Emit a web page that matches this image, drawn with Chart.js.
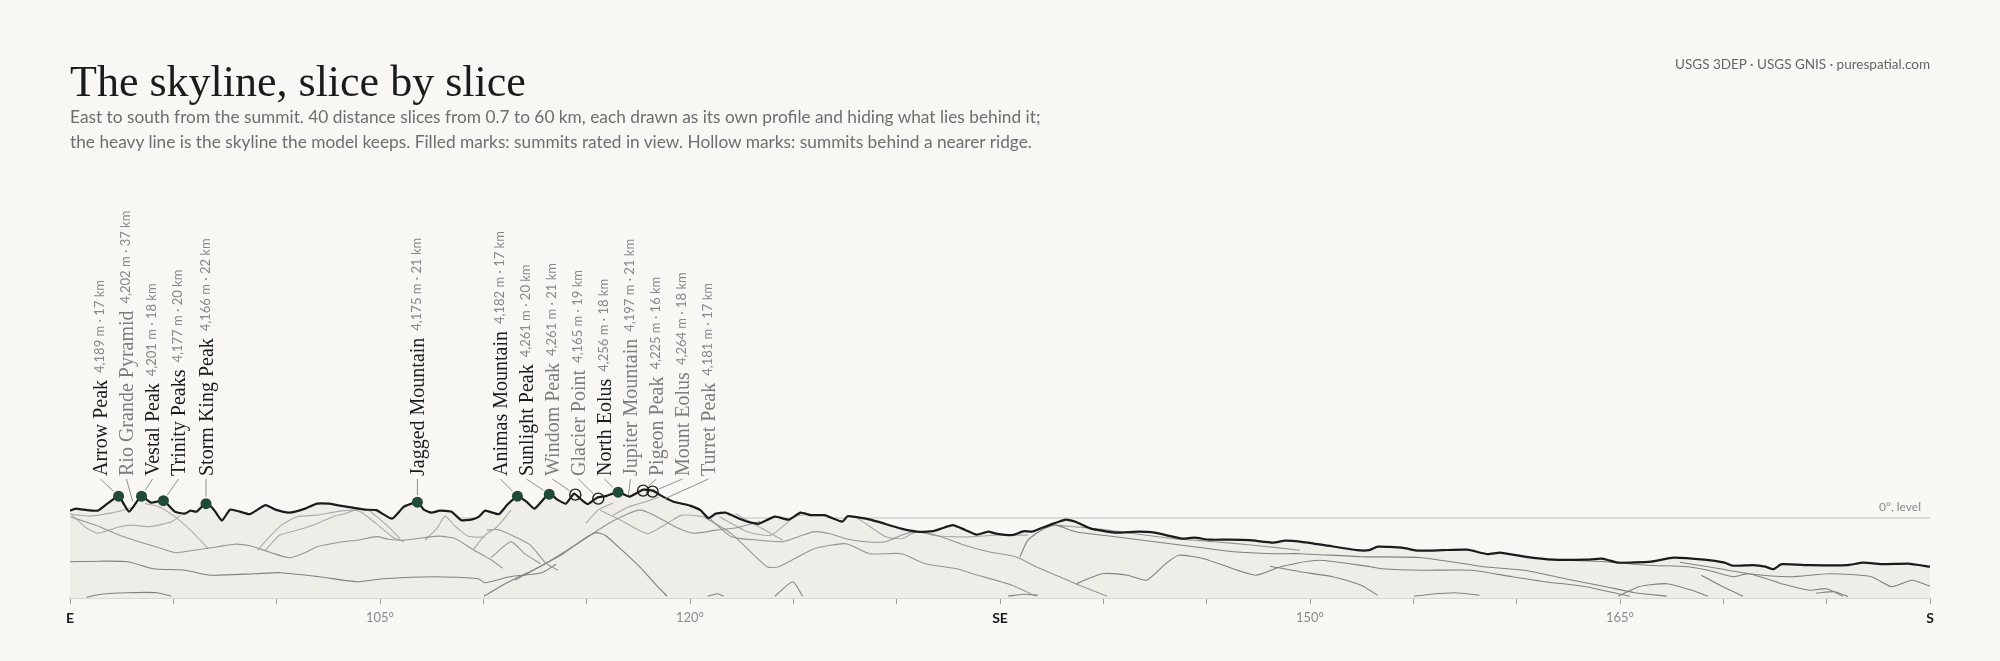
<!DOCTYPE html>
<html>
<head>
<meta charset="utf-8">
<script src="https://cdn.jsdelivr.net/npm/chart.js@4.4.1/dist/chart.umd.min.js"></script>
<style>
  html, body { margin: 0; padding: 0; background: #f8f7f3; width: 2000px; height: 661px; overflow: hidden; }
  #wrap { position: relative; width: 2000px; height: 661px; }
  #chart { position: absolute; left: 0; top: 0; }
  .title { position: absolute; left: 70px; top: 60px; font-family: "Liberation Serif", serif; font-size: 44px; line-height: 44px; color: #1b1b1b; white-space: nowrap; }
  .sub { position: absolute; left: 70px; top: 104px; font-family: Lato, sans-serif; font-size: 17.3px; line-height: 25px; color: #6e6e6e; white-space: nowrap; }
  .src { position: absolute; right: 70px; top: 56px; font-family: Lato, sans-serif; font-size: 13.5px; line-height: 16px; color: #666; white-space: nowrap; }
</style>
</head>
<body>
<div id="wrap">
  <canvas id="chart" width="2000" height="661"></canvas>
  <div class="title">The skyline, slice by slice</div>
  <div class="sub">East to south from the summit. 40 distance slices from 0.7 to 60 km, each drawn as its own profile and hiding what lies behind it;<br>the heavy line is the skyline the model keeps. Filled marks: summits rated in view. Hollow marks: summits behind a nearer ridge.</div>
  <div class="src">USGS 3DEP · USGS GNIS · purespatial.com</div>
</div>
<script>
// ---------- DATA ----------
// Skyline (heavy line): azimuth in degrees, elevation angle in degrees
const skylineAz = [90.0, 90.28, 90.66, 91.34, 91.81, 92.35, 92.86, 93.44, 93.92, 94.53,
  95.07, 95.55, 95.83, 96.12, 96.60, 96.98, 97.35, 97.74, 98.22, 98.70,
  99.46, 99.94, 100.61, 101.38, 101.95, 102.53, 102.91, 103.67, 104.25, 104.82,
  105.58, 106.16, 106.83, 107.12, 107.50, 107.88, 108.46, 108.93, 109.41, 109.79,
  110.09, 110.75, 111.14, 111.65, 112.09, 112.48, 113.18, 113.62, 114.00, 114.39,
  114.77, 115.06, 115.50, 115.92, 116.53, 117.07, 117.74, 118.21, 118.60, 119.20,
  119.60, 120.00, 120.50, 120.90, 121.24, 121.72, 122.39, 122.96, 123.34, 124.11,
  124.77, 125.35, 125.83, 126.50, 127.36, 127.64, 128.51, 129.08, 130.23, 130.99,
  131.76, 132.14, 132.72, 133.29, 133.87, 134.44, 134.82, 135.58, 136.16, 136.54,
  136.93, 138.17, 138.65, 139.41, 140.56, 141.71, 142.48, 143.82, 144.39, 145.15,
  146.11, 147.07, 148.21, 148.79, 149.52, 150.70, 152.28, 152.87, 153.27, 154.45,
  155.24, 156.43, 157.61, 158.60, 159.19, 160.38, 161.76, 163.34, 164.13, 164.92,
  166.50, 167.59, 169.07, 170.06, 170.45, 171.44, 172.03, 172.43, 172.82, 174.20,
  175.98, 176.77, 177.76, 178.94, 180.0];
const skylineAlt = [0.15, 0.19, 0.17, 0.15, 0.29, 0.44, 0.13, 0.44, 0.31, 0.35,
  0.13, 0.09, 0.15, 0.13, 0.31, 0.16, -0.05, 0.17, 0.13, 0.08,
  0.26, 0.17, 0.11, 0.19, 0.29, 0.29, 0.26, 0.21, 0.17, 0.16,
  -0.01, 0.23, 0.32, 0.17, 0.11, 0.15, 0.13, -0.04, -0.03, 0.03,
  0.15, 0.08, 0.26, 0.44, 0.33, 0.19, 0.49, 0.36, 0.29, 0.49,
  0.36, 0.28, 0.41, 0.44, 0.52, 0.43, 0.57, 0.55, 0.45, 0.33,
  0.29, 0.25, 0.16, 0.00, 0.09, 0.11, -0.01, -0.09, -0.11, 0.03,
  -0.03, 0.11, 0.06, 0.06, -0.07, 0.04, -0.01, -0.07, -0.21, -0.27,
  -0.26, -0.21, -0.14, -0.23, -0.33, -0.27, -0.31, -0.34, -0.26, -0.27,
  -0.21, -0.03, -0.07, -0.21, -0.29, -0.27, -0.29, -0.41, -0.39, -0.43,
  -0.43, -0.44, -0.49, -0.45, -0.47, -0.54, -0.64, -0.64, -0.57, -0.59,
  -0.65, -0.64, -0.63, -0.72, -0.69, -0.77, -0.83, -0.83, -0.81, -0.89,
  -0.87, -0.79, -0.83, -0.89, -0.95, -0.94, -0.97, -1.02, -0.92, -0.94,
  -0.94, -0.89, -0.92, -0.91, -0.97];

// Visible parts of the distance-slice profiles (azimuth, elevation angle)
const ridge01Az = [90.8, 91.5, 92.8, 94.2, 94.9];
const ridge01Alt = [-1.58, -1.52, -1.49, -1.49, -1.56];
const ridge02Az = [90.0, 91.45, 92.79, 94.02, 95.56, 96.80, 98.95, 100.19, 102.05, 103.89, 105.13, 107.60, 109.76, 110.07, 111.29, 112.84, 113.52];
const ridge02Alt = [-0.87, -0.86, -0.87, -1.01, -1.04, -1.14, -1.11, -1.09, -1.17, -1.27, -1.21, -1.17, -1.21, -1.29, -1.17, -1.09, -0.92];
const ridge03Az = [90.0, 91.43, 92.39, 93.34, 94.30, 95.07, 95.83, 97.17, 97.94, 98.70, 99.66, 100.61, 101.38, 101.95, 102.91, 104.06, 104.82, 105.40, 106.16, 107.12, 107.88, 108.65, 109.51, 110.37, 110.93];
const ridge03Alt = [0.03, -0.17, -0.34, -0.47, -0.59, -0.69, -0.65, -0.57, -0.52, -0.55, -0.68, -0.79, -0.69, -0.57, -0.49, -0.43, -0.37, -0.42, -0.44, -0.39, -0.36, -0.41, -0.63, -0.83, -1.0];
const ridge04Az = [90.10, 90.81, 91.31, 91.74, 92.32, 92.97, 93.84, 94.92, 95.35];
const ridge04Alt = [0.06, -0.20, -0.30, -0.26, -0.18, -0.14, -0.17, -0.07, 0.06];
const ridge05Az = [90.0, 90.97, 91.94, 92.76, 93.15];
const ridge05Alt = [0.08, 0.04, 0.10, 0.18, 0.24];
const ridge06Az = [93.63, 94.30, 95.07, 95.83, 96.69];
const ridge06Alt = [0.29, 0.23, 0.03, -0.24, -0.61];
const ridge07Az = [99.08, 99.66, 100.23, 100.99, 101.95, 102.91, 103.67, 104.06, 104.82, 105.58, 106.16];
const ridge07Alt = [-0.64, -0.37, -0.14, 0.03, 0.06, 0.13, 0.16, 0.13, -0.11, -0.37, -0.47];
const ridge08Az = [99.46, 100.14, 100.99, 101.95, 102.72, 103.29, 103.87, 104.44, 105.40, 105.97];
const ridge08Alt = [-0.64, -0.34, -0.24, -0.11, 0.03, 0.09, 0.17, 0.16, -0.17, -0.41];
const ridge09Az = [107.18, 107.76, 108.15, 108.63, 109.26, 110.08];
const ridge09Alt = [-0.44, -0.20, 0.04, -0.16, -0.36, -0.38];
const ridge10Az = [109.51, 110.08, 110.56, 110.95, 111.33];
const ridge10Alt = [-0.63, -0.34, -0.21, -0.04, 0.16];
const ridge11Az = [110.18, 110.75, 111.52, 112.28, 113.05, 113.62];
const ridge11Alt = [-0.24, -0.23, -0.37, -0.54, -0.91, -1.04];
const ridge12Az = [110.37, 111.33, 112.00, 112.76];
const ridge12Alt = [-0.79, -0.47, -0.71, -0.91];
const ridge13Az = [110.03, 111.10, 112.40, 113.90, 114.92, 115.45, 115.89, 116.71, 117.58, 118.46, 118.89];
const ridge13Alt = [-1.56, -1.30, -1.04, -0.70, -0.40, -0.29, -0.34, -0.64, -0.98, -1.38, -1.56];
const ridge14Az = [111.53, 113.03, 114.58, 116.08, 116.95, 117.58, 118.26, 119.32, 120.19, 121.26, 122.37, 123.39];
const ridge14Alt = [-1.24, -0.90, -0.50, -0.10, 0.08, 0.16, 0.06, -0.18, -0.30, -0.24, -0.18, -0.06];
const ridge15Az = [115.65, 116.65, 117.94, 118.87, 119.61, 120.72];
const ridge15Alt = [0.16, -0.04, -0.31, -0.11, 0.06, 0.03];
const ridge16Az = [114.97, 115.55, 116.27];
const ridge16Alt = [-0.10, 0.16, 0.30];
const ridge17Az = [116.27, 116.99, 117.77, 118.49];
const ridge17Alt = [0.06, 0.22, 0.32, 0.42];
const ridge18Az = [120.66, 122.00, 123.73, 124.30, 126.02, 127.55, 128.70, 130.23, 131.38, 132.91, 133.67, 135.58, 136.74];
const ridge18Alt = [0.03, -0.31, -0.97, -0.97, -0.61, -0.51, -0.71, -0.71, -0.91, -1.01, -1.11, -1.34, -1.56];
const ridge19Az = [120.86, 122.00, 123.34, 124.49, 125.25, 126.02, 126.77, 127.55, 128.51, 129.46, 130.42, 130.99, 132.14, 133.29, 134.44, 135.77, 136.74, 137.88, 138.65, 140.18];
const ridge19Alt = [0.03, -0.37, -0.44, -0.47, -0.37, -0.27, -0.31, -0.41, -0.47, -0.47, -0.31, -0.27, -0.37, -0.54, -0.67, -0.77, -0.97, -1.17, -1.31, -1.56];
const ridge20Az = [121.43, 122.77, 123.92, 125.07, 125.83];
const ridge20Alt = [0.03, -0.27, -0.34, 0.03, 0.09];
const ridge21Az = [122.20, 123.34, 124.49];
const ridge21Alt = [0.09, -0.17, -0.44];
const ridge22Az = [128.13, 128.51, 129.46, 130.23, 130.99, 131.76, 132.71, 133.67, 134.82, 136.35];
const ridge22Alt = [-0.01, -0.11, -0.37, -0.41, -0.27, -0.34, -0.37, -0.37, -0.34, -0.34];
const ridge23Az = [135.97, 136.35, 137.12, 137.69, 138.65, 140.56, 142.47, 144.39, 146.30, 148.21, 149.51, 152.47, 155.42, 158.40, 160.38, 162.34, 164.32, 165.71, 167.27];
const ridge23Alt = [-0.77, -0.44, -0.21, -0.14, -0.27, -0.37, -0.47, -0.57, -0.67, -0.71, -0.71, -0.77, -0.79, -0.97, -1.04, -1.21, -1.37, -1.49, -1.56];
const ridge24Az = [138.70, 139.93, 141.17, 142.10, 143.02, 143.64, 144.87, 147.34, 148.58, 150.43, 152.90, 153.46, 155.44, 157.81, 159.78, 161.37, 163.34, 164.92, 165.48];
const ridge24Alt = [-1.31, -1.11, -1.14, -1.24, -0.91, -0.74, -0.81, -1.14, -0.97, -0.84, -0.97, -1.01, -1.04, -1.04, -1.17, -1.27, -1.37, -1.51, -1.56];
const ridge25Az = [148.06, 149.51, 151.10, 152.47, 153.27];
const ridge25Alt = [-0.96, -1.07, -1.17, -1.34, -1.54];
const ridge26Az = [137.69, 139.60, 141.52, 143.42, 145.35, 147.26, 149.51];
const ridge26Alt = [-0.14, -0.21, -0.31, -0.41, -0.47, -0.54, -0.64];
const ridge27Az = [155.03, 155.83, 157.01, 158.20];
const ridge27Alt = [-1.56, -1.52, -1.49, -1.54];
const ridge28Az = [164.92, 165.91, 167.27, 168.47, 169.26];
const ridge28Alt = [-1.56, -1.37, -1.31, -1.44, -1.56];
const ridge29Az = [162.1, 164.32, 166.30, 168.28, 169.26, 170.46, 171.24, 172.82, 174.19, 174.99, 175.79];
const ridge29Alt = [-0.84, -0.87, -0.94, -0.97, -1.04, -1.17, -1.11, -1.31, -1.44, -1.41, -1.56];
const ridge30Az = [167.90, 169.26, 171.24, 173.22, 175.19, 177.16, 178.15, 179.13, 180.0];
const ridge30Alt = [-0.88, -0.97, -1.11, -1.17, -1.11, -1.17, -1.37, -1.24, -1.36];
const ridge31Az = [168.94, 169.84, 170.95];
const ridge31Alt = [-1.14, -1.34, -1.56];
const ridge32Az = [120.86, 121.34, 121.62];
const ridge32Alt = [-1.56, -1.51, -1.56];
const ridge33Az = [124.11, 124.97, 125.45];
const ridge33Alt = [-1.56, -1.27, -1.56];
const ridge34Az = [135.39, 136.16, 136.84];
const ridge34Alt = [-1.56, -1.52, -1.54];
const ridge35Az = [174.48, 175.40, 176.03];
const ridge35Alt = [-1.50, -1.47, -1.57];

// Named summits
const summitNames = ["Arrow Peak", "Rio Grande Pyramid", "Vestal Peak", "Trinity Peaks", "Storm King Peak",
  "Jagged Mountain", "Animas Mountain", "Sunlight Peak", "Windom Peak", "Glacier Point",
  "North Eolus", "Jupiter Mountain", "Pigeon Peak", "Mount Eolus", "Turret Peak"];
const summitElev = [4189, 4202, 4201, 4177, 4166, 4175, 4182, 4261, 4261, 4165, 4256, 4197, 4225, 4264, 4181];
const summitDist = [17, 37, 18, 20, 22, 21, 17, 20, 21, 19, 18, 21, 16, 18, 17];
const summitAz = [92.35, 93.12, 93.46, 94.52, 96.58, 106.81, 111.65, 113.19, 114.45, 115.56, 116.52, 116.98, 117.73, 118.19, 118.47];
const summitAlt = [0.44, 0.20, 0.44, 0.35, 0.29, 0.32, 0.44, 0.48, 0.47, 0.39, 0.52, 0.33, 0.55, 0.53, 0.33];
const summitInView = [true, false, true, true, true, true, true, true, false, false, true, false, false, false, false];

// Axis tick labels
const compassAz = [90, 135, 180];
const compassLabels = ["E", "SE", "S"];

// ---------- CHART ----------
const ridges = [
  [ridge01Az, ridge01Alt], [ridge02Az, ridge02Alt], [ridge03Az, ridge03Alt], [ridge04Az, ridge04Alt],
  [ridge05Az, ridge05Alt], [ridge06Az, ridge06Alt], [ridge07Az, ridge07Alt], [ridge08Az, ridge08Alt],
  [ridge09Az, ridge09Alt], [ridge10Az, ridge10Alt], [ridge11Az, ridge11Alt], [ridge12Az, ridge12Alt],
  [ridge13Az, ridge13Alt], [ridge14Az, ridge14Alt], [ridge15Az, ridge15Alt], [ridge16Az, ridge16Alt],
  [ridge17Az, ridge17Alt], [ridge18Az, ridge18Alt], [ridge19Az, ridge19Alt], [ridge20Az, ridge20Alt],
  [ridge21Az, ridge21Alt], [ridge22Az, ridge22Alt], [ridge23Az, ridge23Alt], [ridge24Az, ridge24Alt],
  [ridge25Az, ridge25Alt], [ridge26Az, ridge26Alt], [ridge27Az, ridge27Alt], [ridge28Az, ridge28Alt],
  [ridge29Az, ridge29Alt], [ridge30Az, ridge30Alt], [ridge31Az, ridge31Alt], [ridge32Az, ridge32Alt],
  [ridge33Az, ridge33Alt], [ridge34Az, ridge34Alt], [ridge35Az, ridge35Alt]
];
const toPts = (az, alt) => az.map((a, i) => ({ x: a, y: alt[i] }));

function ridgeColor(alt) {
  const lo = Math.min(...alt);
  const hi = Math.max(...alt);
  const mid = (lo + hi) / 2;
  return mid < -0.8 ? '#808080' : (mid < -0.3 ? '#959595' : '#ababab');
}

const datasets = [{
  label: 'skyline',
  data: toPts(skylineAz, skylineAlt),
  borderColor: '#1b1b1b',
  borderWidth: 2.2,
  backgroundColor: '#efede8',
  fill: 'start',
  tension: 0.15,
  pointRadius: 0
}];
ridges.forEach(([az, alt], k) => {
  datasets.push({
    label: 'slice ' + (k + 1),
    data: toPts(az, alt),
    borderColor: ridgeColor(alt),
    borderWidth: 1.1,
    fill: false,
    tension: 0.2,
    pointRadius: 0
  });
});

function skyAt(az) {
  for (let i = 0; i < skylineAz.length - 1; i++) {
    if (az >= skylineAz[i] && az <= skylineAz[i + 1]) {
      const t = (az - skylineAz[i]) / (skylineAz[i + 1] - skylineAz[i]);
      return skylineAlt[i] + t * (skylineAlt[i + 1] - skylineAlt[i]);
    }
  }
  return skylineAlt[skylineAlt.length - 1];
}

const levelPlugin = {
  id: 'level',
  beforeDraw(chart) {
    const { ctx, chartArea, scales: { y } } = chart;
    const yy = Math.round(y.getPixelForValue(0));
    ctx.save();
    ctx.strokeStyle = '#dddbd5';
    ctx.lineWidth = 2;
    ctx.beginPath();
    ctx.moveTo(chartArea.left, yy);
    ctx.lineTo(chartArea.right, yy);
    ctx.stroke();
    ctx.fillStyle = '#8a8a8a';
    ctx.font = '12px Lato';
    ctx.textAlign = 'right';
    ctx.textBaseline = 'alphabetic';
    ctx.fillText('0°, level', chartArea.right - 9, yy - 7);
    ctx.restore();
  }
};

const summitPlugin = {
  id: 'summits',
  afterDatasetsDraw(chart) {
    const { ctx, scales: { x, y } } = chart;
    const pts = summitNames.map((n, i) => ({ i, px: x.getPixelForValue(summitAz[i]), py: y.getPixelForValue(summitAlt[i]) }));
    const sorted = pts.slice().sort((a, b) => a.px - b.px);
    const GAP = 26;
    const groups = sorted.map(p => ({ items: [p], start: p.px }));
    let merged = true;
    while (merged) {
      merged = false;
      for (let k = 0; k < groups.length - 1; k++) {
        const a = groups[k], b = groups[k + 1];
        if (b.start - (a.start + (a.items.length - 1) * GAP) < GAP) {
          const items = a.items.concat(b.items);
          const mean = items.reduce((s, p) => s + p.px, 0) / items.length;
          groups.splice(k, 2, { items, start: mean - (items.length - 1) * GAP / 2 });
          merged = true;
          break;
        }
      }
    }
    groups.forEach(g => g.items.forEach((p, j) => { p.lx = g.start + j * GAP; }));
    const LABEL_BOTTOM = 476;
    const R = 5.5;
    ctx.save();
    pts.forEach(p => {
      const i = p.i;
      const inView = summitInView[i];
      const marked = inView || summitAlt[i] >= skyAt(summitAz[i]) - 0.03;
      const sx = p.lx, sy = LABEL_BOTTOM + 3;
      const dx = sx - p.px, dy = sy - p.py, d = Math.hypot(dx, dy);
      const ex = p.px + dx / d * (R + 1.5), ey = p.py + dy / d * (R + 1.5);
      ctx.strokeStyle = '#8e8e8e';
      ctx.lineWidth = 1;
      ctx.beginPath();
      ctx.moveTo(sx, sy);
      ctx.lineTo(ex, ey);
      ctx.stroke();
      if (marked) {
        ctx.beginPath();
        ctx.arc(p.px, p.py, R, 0, Math.PI * 2);
        if (inView) {
          ctx.fillStyle = '#1f4b38';
          ctx.fill();
        } else {
          ctx.strokeStyle = '#1b1b1b';
          ctx.lineWidth = 1.4;
          ctx.stroke();
        }
      }
      ctx.save();
      ctx.translate(p.lx, LABEL_BOTTOM);
      ctx.rotate(-Math.PI / 2);
      ctx.textAlign = 'left';
      ctx.textBaseline = 'alphabetic';
      ctx.font = '20px "Liberation Serif"';
      ctx.fillStyle = inView ? '#1b1b1b' : '#7d7d7d';
      ctx.fillText(summitNames[i], 0, 7);
      const w = ctx.measureText(summitNames[i]).width;
      ctx.font = '13px Lato';
      ctx.fillStyle = '#888888';
      ctx.fillText(summitElev[i].toLocaleString('en-US') + ' m · ' + summitDist[i] + ' km', w + 7, 4);
      ctx.restore();
    });
    ctx.restore();
  }
};

const isCompass = (c) => !!(c && c.tick && compassAz.includes(c.tick.value));

new Chart(document.getElementById('chart').getContext('2d'), {
  type: 'line',
  data: { datasets },
  options: {
    responsive: false,
    animation: false,
    devicePixelRatio: 1,
    layout: { padding: { left: 70, right: 70, top: 150, bottom: 28 } },
    plugins: {
      legend: { display: false },
      tooltip: { enabled: false },
      filler: { drawTime: 'beforeDatasetsDraw' }
    },
    scales: {
      x: {
        type: 'linear',
        min: 90,
        max: 180,
        ticks: {
          stepSize: 5,
          autoSkip: false,
          maxRotation: 0,
          padding: 6,
          callback: (v) => {
            const c = compassAz.indexOf(v);
            if (c >= 0) return compassLabels[c];
            return v % 15 === 0 ? v + '°' : '';
          },
          color: (c) => isCompass(c) ? '#1b1b1b' : '#8a8a8a',
          font: (c) => isCompass(c) ? { family: 'Lato', size: 14, weight: 'bold' } : { family: 'Lato', size: 13 }
        },
        grid: { display: true, drawOnChartArea: false, drawTicks: true, tickLength: 6, color: '#9b9b9b', lineWidth: 1 },
        border: { display: true, color: '#d8d6d0', width: 2 }
      },
      y: { display: false, min: -1.6, max: 7.36 }
    }
  },
  plugins: [levelPlugin, summitPlugin]
});
</script>
</body>
</html>
